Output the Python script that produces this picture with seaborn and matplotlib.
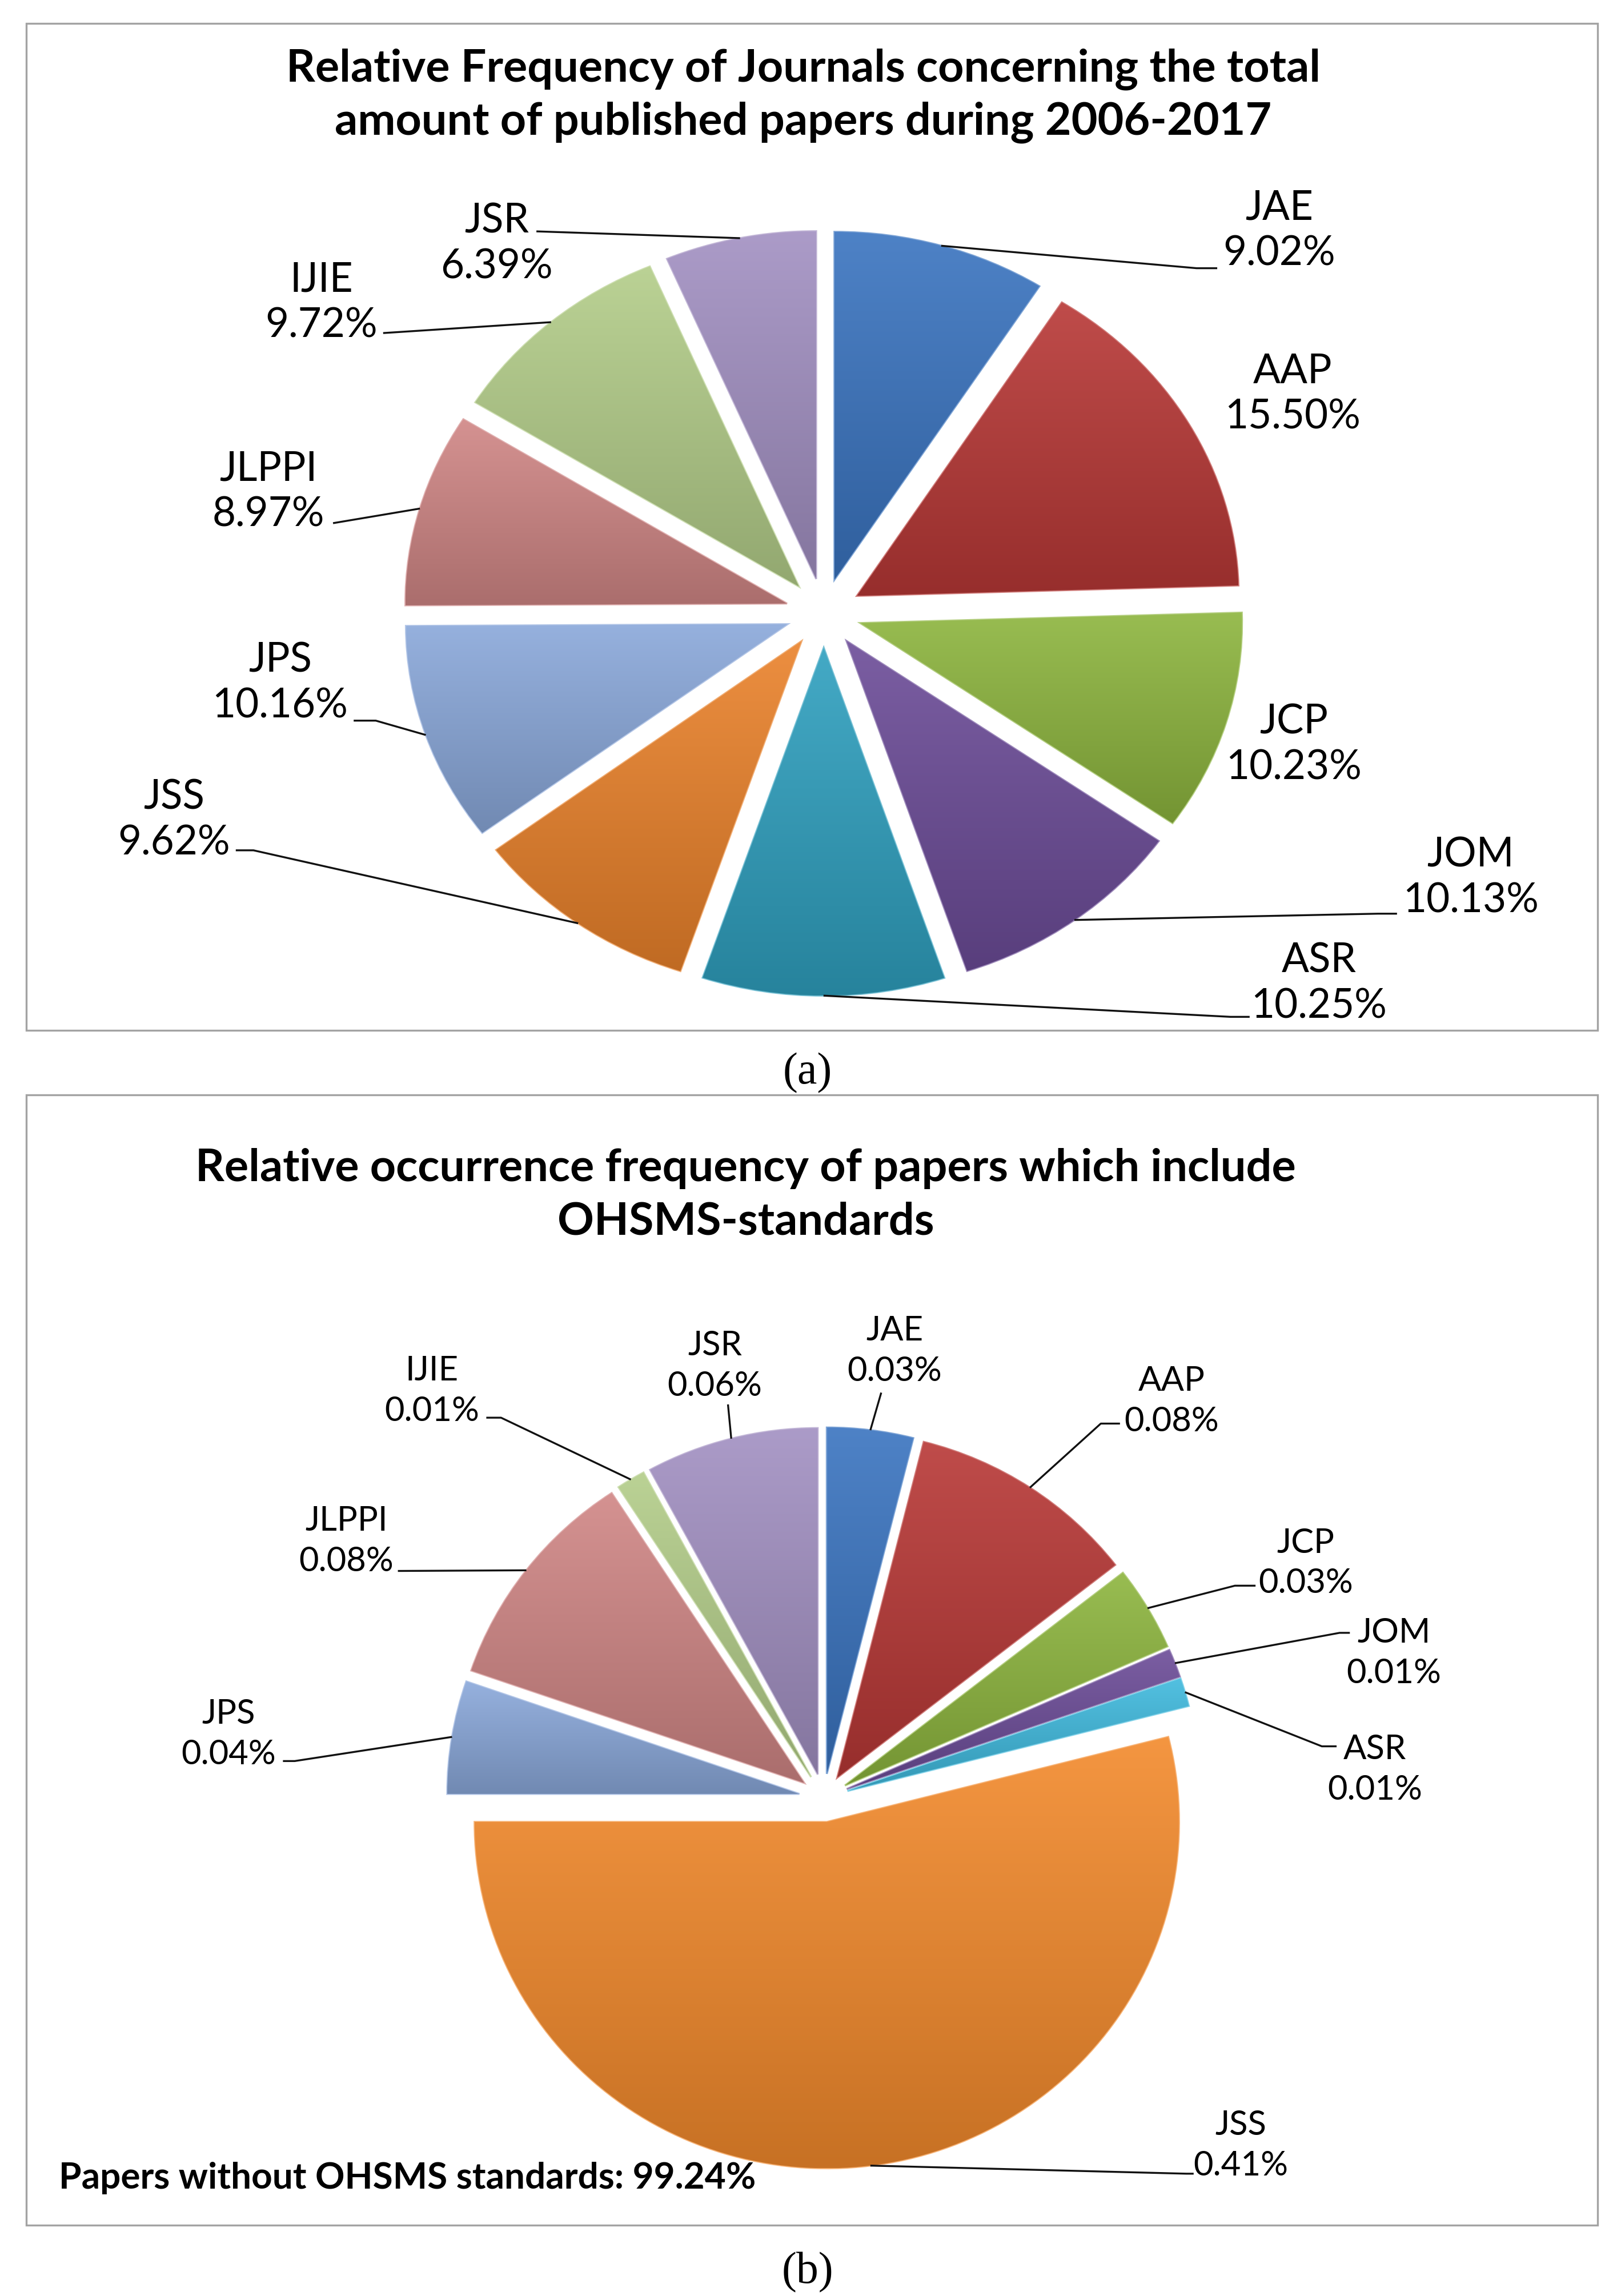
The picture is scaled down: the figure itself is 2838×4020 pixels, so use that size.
import numpy as np
import matplotlib
matplotlib.use("Agg")
import matplotlib.pyplot as plt
import seaborn as sns
from matplotlib.patches import Rectangle
from matplotlib.colors import to_rgb

# ---------------- data ----------------
journals = ["JAE", "AAP", "JCP", "JOM", "ASR", "JSS", "JPS", "JLPPI", "IJIE", "JSR"]
share_total = [9.02, 15.50, 10.23, 10.13, 10.25, 9.62, 10.16, 8.97, 9.72, 6.39]
share_ohsms = [0.03, 0.08, 0.03, 0.01, 0.01, 0.41, 0.04, 0.08, 0.01, 0.06]
colors_a = ["#3A74C0", "#B83836", "#8DB53E", "#6C4C98", "#2FA0BF",
            "#EA822B", "#8AA8DA", "#D08685", "#B3CD89", "#A290C2"]
colors_b = ["#3A74C0", "#B83836", "#8DB53E", "#6C4C98", "#3FB9DD",
            "#F38A2C", "#8AA8DA", "#D08685", "#B3CD89", "#A290C2"]
title_a = ["Relative Frequency of Journals concerning the total",
           "amount of published papers during 2006-2017"]
title_b = ["Relative occurrence frequency of papers which include",
           "OHSMS-standards"]
note_b = "Papers without OHSMS standards: 99.24%"
panel_tags = ["(a)", "(b)"]

# ---------------- layout (reference units, y downward) ----------------
W, H = 1100.0, 1558.0
PIE_A = dict(cx=559, cy=416, rx=259, ry=236, explode=0.10)
PIE_B = dict(cx=559, cy=1220, rx=239, ry=235, explode=0.07)

LAB_A = {"JAE": (868, 141), "AAP": (877, 252), "JCP": (878, 490),
         "JOM": (998, 580), "ASR": (895, 652), "JSS": (118, 541),
         "JPS": (190, 448), "JLPPI": (182, 318), "IJIE": (218, 190),
         "JSR": (337, 150)}
LEAD_A = {"JAE": [(812, 182), (826, 182)], "JOM": [(935, 620), (948, 620)],
          "ASR": [(835, 690), (848, 690)], "JSS": [(172, 577), (160, 577)],
          "JPS": [(255, 489), (240, 489)], "JLPPI": [(226, 355)],
          "IJIE": [(260, 226)], "JSR": [(364, 157)]}
LAB_B = {"JAE": (607, 903), "AAP": (795, 937), "JCP": (886, 1047),
         "JOM": (946, 1108), "ASR": (933, 1187), "JSS": (842, 1442),
         "JPS": (155, 1163), "JLPPI": (235, 1032), "IJIE": (293, 930),
         "JSR": (485, 913)}
LEAD_B = {"JAE": [(598, 945)], "AAP": [(747, 966), (760, 966)],
          "JCP": [(838, 1076), (852, 1076)], "JOM": [(909, 1108), (916, 1108)],
          "ASR": [(897, 1185), (907, 1185)], "JSS": [(805, 1475), (810, 1475)],
          "JPS": [(200, 1195), (192, 1195)], "JLPPI": [(270, 1066)],
          "IJIE": [(340, 962), (330, 962)], "JSR": [(494, 953)]}

sns.set_theme(style="white")
plt.rcParams["font.family"] = ["Lato", "DejaVu Sans"]

fig = plt.figure(figsize=(28.38, 40.2), dpi=100)
fig.patch.set_facecolor("white")


def mix(c, other, t):
    c = np.array(to_rgb(c)); o = np.array(to_rgb(other))
    return tuple(c * (1 - t) + o * t)


def draw_pie(values, colors, g):
    ax = fig.add_axes([0, 0, 1, 1], zorder=1)
    ax.patch.set_alpha(0)
    pal = sns.color_palette(colors)
    wedges, _ = ax.pie(values, colors=pal, startangle=90, counterclock=False,
                       explode=[g["explode"]] * len(values), radius=1.0,
                       center=(0, 0),
                       wedgeprops=dict(linewidth=2.5))
    attach = []
    for w, c in zip(wedges, pal):
        w.set_edgecolor(mix(c, "white", 0.35))
        ext = w.get_path().get_extents()
        top = np.array(mix(c, "white", 0.10))
        bot = np.array(mix(c, "black", 0.18))
        t = np.linspace(0, 1, 256)[:, None, None]
        img = bot * (1 - t) + top * t
        img = np.repeat(img, 2, axis=1)
        im = ax.imshow(img, extent=[ext.x0, ext.x1, ext.y0, ext.y1],
                       origin="lower", aspect="auto", interpolation="bilinear",
                       zorder=w.get_zorder() + 0.5)
        im.set_clip_path(w)
        mid = np.deg2rad((w.theta1 + w.theta2) / 2.0)
        ux = w.center[0] + w.r * np.cos(mid)
        uy = w.center[1] + w.r * np.sin(mid)
        attach.append((g["cx"] + g["rx"] * ux, g["cy"] - g["ry"] * uy))
    ax.set_aspect("auto")
    ax.set_xlim((0 - g["cx"]) / g["rx"], (W - g["cx"]) / g["rx"])
    ax.set_ylim((g["cy"] - H) / g["ry"], g["cy"] / g["ry"])
    ax.set_axis_off()
    return attach


attach_a = draw_pie(share_total, colors_a, PIE_A)
attach_b = draw_pie(share_ohsms, colors_b, PIE_B)

axt = fig.add_axes([0, 0, 1, 1], zorder=3)
axt.patch.set_alpha(0)
axt.set_xlim(0, W)
axt.set_ylim(H, 0)
axt.set_axis_off()

# panel frames
for (x0, y0, x1, y1) in [(18, 16, 1084, 699), (18, 743, 1084, 1510)]:
    axt.add_patch(Rectangle((x0, y0), x1 - x0, y1 - y0, fill=False,
                            ec="#a3a3a3", lw=2.4))

# titles
for i, line in enumerate(title_a):
    axt.text(545, 47 + 36 * i, line, ha="center", va="center",
             fontsize=57, fontweight="bold", color="black")
for i, line in enumerate(title_b):
    axt.text(506, 793 + 36 * i, line, ha="center", va="center",
             fontsize=57, fontweight="bold", color="black")


def labels(vals, attach, lab, lead, fs, gap):
    for name, v, a in zip(journals, vals, attach):
        x, y = lab[name]
        axt.text(x, y, name, ha="center", va="center", fontsize=fs, color="black")
        axt.text(x, y + gap, f"{v:.2f}%", ha="center", va="center",
                 fontsize=fs, color="black")
        if name in lead:
            pts = [a] + lead[name]
            axt.plot([p[0] for p in pts], [p[1] for p in pts],
                     color="#111111", lw=2.4, solid_capstyle="butt")


labels(share_total, attach_a, LAB_A, LEAD_A, 51, 31)
labels(share_ohsms, attach_b, LAB_B, LEAD_B, 43, 27.5)

axt.text(40, 1478, note_b, ha="left", va="center", fontsize=46,
         fontweight="bold", color="black")

axt.text(548, 728, panel_tags[0], ha="center", va="center", fontsize=56,
         family=["Liberation Serif", "DejaVu Serif"], color="black")
axt.text(548, 1542, panel_tags[1], ha="center", va="center", fontsize=56,
         family=["Liberation Serif", "DejaVu Serif"], color="black")

fig.savefig("out.png", dpi=100, facecolor="white")
